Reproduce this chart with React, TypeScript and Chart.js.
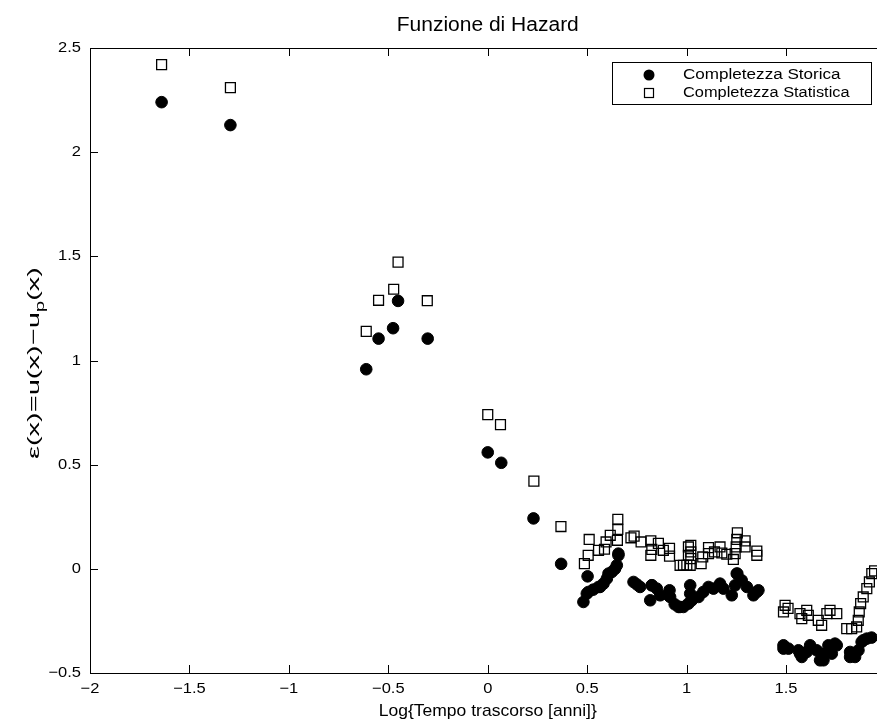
import React, { useEffect, useRef } from "react";
import { Chart, registerables } from "chart.js";

Chart.register(...registerables);

// ---- data ----
const storicaX = [
  -1.64, -1.294, -0.611, -0.549, -0.476, -0.451, -0.302, 0.0, 0.068, 0.23, 0.369,
  0.481, 0.498, 0.502, 0.506, 0.53, 0.557, 0.565, 0.582, 0.599, 0.607, 0.624, 0.64, 0.649, 0.657, 0.657,
  0.733, 0.75, 0.766, 0.817, 0.825, 0.825, 0.85, 0.867, 0.909, 0.914, 0.917, 0.94, 0.959, 0.967, 0.984, 1.009,
  1.018, 1.018, 1.026, 1.06, 1.084, 1.11, 1.135, 1.168, 1.185, 1.227, 1.244, 1.252, 1.255, 1.277, 1.303, 1.336, 1.353, 1.361,
  1.487, 1.487, 1.512, 1.562, 1.57, 1.579, 1.604, 1.621, 1.654, 1.671, 1.688, 1.688, 1.713, 1.73, 1.746, 1.755,
  1.822, 1.822, 1.847, 1.864, 1.88, 1.888, 1.906, 1.93,
];
const storicaY = [
  2.24, 2.13, 0.958, 1.105, 1.155, 1.286, 1.105, 0.559, 0.509, 0.242, 0.024,
  -0.159, -0.119, -0.036, -0.111, -0.1, -0.087, -0.087, -0.071, -0.047, -0.023, -0.015, 0.0, 0.017, 0.073, 0.065,
  -0.063, -0.075, -0.087, -0.151, -0.079, -0.079, -0.095, -0.127, -0.127, -0.103, -0.135, -0.17, -0.183, -0.183, -0.183, -0.167,
  -0.079, -0.119, -0.151, -0.135, -0.111, -0.087, -0.095, -0.071, -0.095, -0.127, -0.079, -0.023, -0.023, -0.055, -0.087, -0.127, -0.111, -0.103,
  -0.367, -0.383, -0.383, -0.391, -0.407, -0.423, -0.399, -0.367, -0.391, -0.439, -0.407, -0.439, -0.367, -0.407, -0.359, -0.367,
  -0.399, -0.423, -0.423, -0.391, -0.351, -0.343, -0.335, -0.33,
];
const statisticaX = [
  -1.64, -1.294, -0.611, -0.549, -0.473, -0.451, -0.304, 0.0, 0.064, 0.232, 0.368,
  0.486, 0.505, 0.51, 0.557, 0.587, 0.595, 0.616, 0.652, 0.654, 0.654, 0.72, 0.736, 0.771, 0.82, 0.82, 0.825,
  0.858, 0.883, 0.914, 0.914, 0.967, 0.984, 1.001, 1.009, 1.009, 1.018, 1.021, 1.021, 1.021, 1.073, 1.081,
  1.11, 1.11, 1.14, 1.168, 1.177, 1.202, 1.235, 1.244, 1.249, 1.252, 1.255, 1.294, 1.294, 1.353, 1.353,
  1.487, 1.495, 1.51, 1.57, 1.579, 1.604, 1.612, 1.662, 1.679, 1.705, 1.721, 1.755, 1.805, 1.83, 1.855,
  1.863, 1.868, 1.875, 1.888, 1.906, 1.919, 1.931, 1.945,
];
const statisticaY = [
  2.42, 2.31, 1.14, 1.289, 1.342, 1.472, 1.287, 0.74, 0.692, 0.421, 0.203,
  0.025, 0.065, 0.141, 0.089, 0.094, 0.129, 0.161, 0.137, 0.189, 0.238, 0.149, 0.157, 0.129, 0.134, 0.065, 0.093,
  0.122, 0.089, 0.098, 0.061, 0.017, 0.017, 0.017, 0.105, 0.065, 0.017, 0.113, 0.081, 0.049, 0.025, 0.057,
  0.102, 0.073, 0.081, 0.105, 0.076, 0.07, 0.045, 0.073, 0.105, 0.141, 0.173, 0.134, 0.105, 0.085, 0.065,
  -0.207, -0.175, -0.19, -0.215, -0.239, -0.199, -0.223, -0.247, -0.271, -0.215, -0.199, -0.215, -0.287, -0.287, -0.279,
  -0.247, -0.207, -0.167, -0.135, -0.095, -0.063, -0.023, -0.01,
];

const xTicks = [-2, -1.5, -1, -0.5, 0, 0.5, 1, 1.5, 2];
const yTicks = [-0.5, 0, 0.5, 1, 1.5, 2, 2.5];

const chartTitle = "Funzione di Hazard";
const xAxisTitle = "Log{Tempo trascorso [anni]}";
const yAxisMain = "\u03b5(x)=u(x)\u2212u";
const yAxisSub = "p";
const yAxisTail = "(x)";
const legendLabels = ["Completezza Storica", "Completezza Statistica"];

const FONT = "'Liberation Sans', Arial, Helvetica, sans-serif";

const fmt = (v: number) => (v < 0 ? "\u2212" + String(Math.abs(v)) : String(v));

function stretchText(
  ctx: CanvasRenderingContext2D,
  text: string,
  x: number,
  y: number,
  font: string,
  align: CanvasTextAlign,
  baseline: CanvasTextBaseline,
  sx: number
) {
  ctx.save();
  ctx.translate(x, y);
  ctx.scale(sx, 1);
  ctx.font = font;
  ctx.textAlign = align;
  ctx.textBaseline = baseline;
  ctx.fillText(text, 0, 0);
  ctx.restore();
}

const decorPlugin = {
  id: "decor",
  afterDraw(chart: any) {
    const { ctx, chartArea, scales } = chart;
    const { left, right, top, bottom } = chartArea;
    ctx.save();
    ctx.strokeStyle = "#000";
    ctx.lineWidth = 1;
    // frame
    ctx.strokeRect(Math.round(left) + 0.5, Math.round(top) + 0.5, Math.round(right - left), Math.round(bottom - top));
    // inside ticks
    const tl = 8;
    ctx.beginPath();
    xTicks.forEach((v) => {
      const px = Math.round(scales.x.getPixelForValue(v)) + 0.5;
      ctx.moveTo(px, bottom);
      ctx.lineTo(px, bottom - tl);
      ctx.moveTo(px, top);
      ctx.lineTo(px, top + tl);
    });
    yTicks.forEach((v) => {
      const py = Math.round(scales.y.getPixelForValue(v)) + 0.5;
      ctx.moveTo(left, py);
      ctx.lineTo(left + tl, py);
      ctx.moveTo(right, py);
      ctx.lineTo(right - tl, py);
    });
    ctx.stroke();

    ctx.fillStyle = "#000";
    const tickFont = `15px ${FONT}`;
    xTicks.forEach((v) => {
      stretchText(ctx, fmt(v), scales.x.getPixelForValue(v), 689, tickFont, "center", "middle", 1.1);
    });
    yTicks.forEach((v) => {
      stretchText(ctx, fmt(v), 81, scales.y.getPixelForValue(v), tickFont, "right", "middle", 1.1);
    });

    const cx0 = scales.x.getPixelForValue(0);
    // title
    stretchText(ctx, chartTitle, cx0, 25, `20px ${FONT}`, "center", "middle", 1.05);
    // x axis title
    stretchText(ctx, xAxisTitle, cx0, 711, `17px ${FONT}`, "center", "middle", 1.03);

    // y axis title (rotated, with subscript)
    ctx.save();
    ctx.translate(33, 363);
    ctx.rotate(-Math.PI / 2);
    const big = `17px ${FONT}`;
    const small = `12px ${FONT}`;
    ctx.font = big;
    const w1 = ctx.measureText(yAxisMain).width;
    ctx.font = small;
    const w2 = ctx.measureText(yAxisSub).width;
    ctx.font = big;
    const w3 = ctx.measureText(yAxisTail).width;
    const total = w1 + w2 + w3;
    const target = 192;
    ctx.scale(target / total, 1);
    let cx = -total / 2;
    ctx.textAlign = "left";
    ctx.textBaseline = "alphabetic";
    ctx.fillText(yAxisMain, cx, 6);
    cx += w1;
    ctx.font = small;
    ctx.fillText(yAxisSub, cx, 11);
    cx += w2;
    ctx.font = big;
    ctx.fillText(yAxisTail, cx, 6);
    ctx.restore();

    // legend
    const bx = 612, by = 62, bw = 259, bh = 42;
    ctx.fillStyle = "#fff";
    ctx.fillRect(bx, by, bw, bh);
    ctx.strokeStyle = "#000";
    ctx.lineWidth = 1;
    ctx.strokeRect(bx + 0.5, by + 0.5, bw, bh);
    ctx.fillStyle = "#000";
    ctx.beginPath();
    ctx.arc(649, 75, 5.5, 0, Math.PI * 2);
    ctx.fill();
    ctx.lineWidth = 1.2;
    ctx.strokeRect(644.5, 88.5, 9, 9);
    const lf = `14px ${FONT}`;
    stretchText(ctx, legendLabels[0], 683, 75, lf, "left", "middle", 1.22);
    stretchText(ctx, legendLabels[1], 683, 93, lf, "left", "middle", 1.17);
    ctx.restore();
  },
};

export default function App() {
  const ref = useRef<HTMLCanvasElement | null>(null);
  useEffect(() => {
    if (!ref.current) return;
    const chart = new Chart(ref.current, {
      type: "scatter",
      data: {
        datasets: [
          {
            label: legendLabels[0],
            data: storicaX.map((x, i) => ({ x, y: storicaY[i] })),
            pointStyle: "circle",
            pointRadius: 5.8,
            backgroundColor: "#000",
            borderColor: "#000",
            borderWidth: 1,
            showLine: false,
          },
          {
            label: legendLabels[1],
            data: statisticaX.map((x, i) => ({ x, y: statisticaY[i] })),
            pointStyle: "rect",
            pointRadius: 7,
            backgroundColor: "rgba(0,0,0,0)",
            borderColor: "#000",
            borderWidth: 1.3,
            showLine: false,
          },
        ],
      },
      plugins: [decorPlugin],
      options: {
        animation: false,
        responsive: false,
        devicePixelRatio: 1,
        layout: { padding: { top: 48, right: 9.5, left: 0, bottom: 0 } },
        plugins: {
          legend: { display: false },
          title: { display: false },
          tooltip: { enabled: false },
        },
        scales: {
          x: {
            type: "linear",
            min: -2,
            max: 2,
            afterBuildTicks: (s: any) => {
              s.ticks = xTicks.map((v) => ({ value: v }));
            },
            afterFit: (s: any) => {
              s.height = 51;
            },
            grid: { display: false, drawTicks: false },
            border: { display: false },
            ticks: { display: false },
          },
          y: {
            type: "linear",
            min: -0.5,
            max: 2.5,
            afterBuildTicks: (s: any) => {
              s.ticks = yTicks.map((v) => ({ value: v }));
            },
            afterFit: (s: any) => {
              s.width = 90;
            },
            grid: { display: false, drawTicks: false },
            border: { display: false },
            ticks: { display: false },
          },
        },
      },
    } as any);
    return () => chart.destroy();
  }, []);
  return (
    <div
      style={{
        position: "fixed",
        left: 0,
        top: 0,
        width: 877,
        height: 724,
        overflow: "hidden",
        background: "#fff",
      }}
    >
      <canvas ref={ref} width={895} height={724} style={{ display: "block" }} />
    </div>
  );
}
